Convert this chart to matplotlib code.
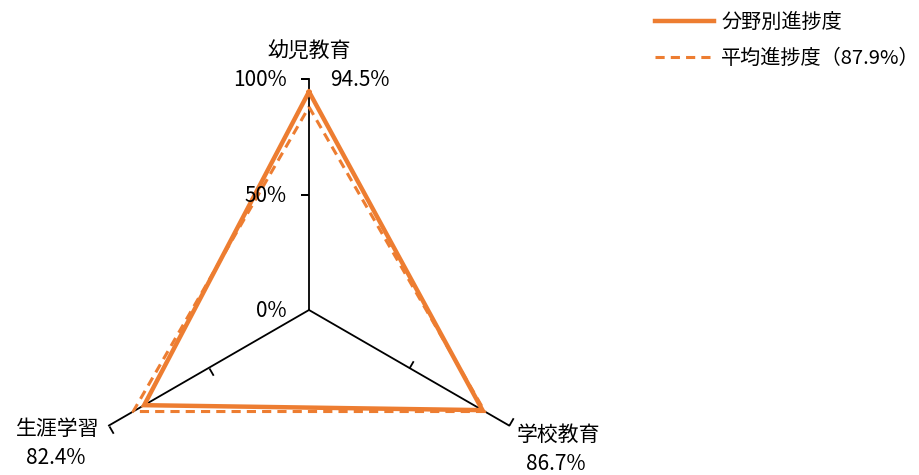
import numpy as np
import matplotlib
matplotlib.use('Agg')
from matplotlib import pyplot as plt
from matplotlib.markers import MarkerStyle
from matplotlib.path import Path
from matplotlib.transforms import Affine2D
from matplotlib.lines import Line2D

plt.rcParams['font.family'] = ['Noto Sans CJK JP', 'DejaVu Sans']
plt.rcParams['font.size'] = 15

categories = ['幼児教育', '学校教育', '生涯学習']
progress = [94.5, 86.7, 82.4]
average = 87.9
r_ticks = [0, 50, 100]
r_tick_labels = ['0%', '50%', '100%']

orange = '#ED7D31'

fig = plt.figure(figsize=(9.2, 4.75), dpi=100)

# polar axes placed so the centre sits at (309, 310) px, 100% = 231 px
rmax = 110
rad_px = 231 * rmax / 100
cx, cy = 309, 475 - 310
ax = fig.add_axes([(cx - rad_px) / 920, (cy - rad_px) / 475, 2 * rad_px / 920, 2 * rad_px / 475],
                  projection='polar')
ax.set_theta_offset(np.pi / 2)
ax.set_theta_direction(-1)
ax.set_ylim(0, rmax)
ax.axis('off')

theta = np.linspace(0, 2 * np.pi, len(categories), endpoint=False)

# spokes
for t in theta:
    ax.plot([t, t], [0, 100], color='black', lw=1.3, zorder=1)

# tick marks (one-sided, perpendicular to each spoke)
tick_path = Path([(0, 0), (-1, 0)])
for t in theta:
    ang = -np.degrees(t)
    ms = MarkerStyle(tick_path, transform=Affine2D().rotate_deg(ang))
    ax.plot([t] * 2, r_ticks[1:], ls='none', marker=ms, markersize=12,
            markeredgecolor='black', markeredgewidth=1.3, zorder=1)

# average (dashed)
tc = np.append(theta, theta[0])
avg = [average] * (len(categories) + 1)
ax.plot(tc, avg, color=orange, lw=2.2, ls=(0, (3, 2)), zorder=2, clip_on=False)

# progress (solid)
vals = progress + progress[:1]
ax.plot(tc, vals, color=orange, lw=3.2, zorder=3, clip_on=False, solid_joinstyle='miter')

# r tick labels on the top spoke
for r, lab in zip(r_ticks, r_tick_labels):
    ax.annotate(lab, xy=(0, r), xytext=(-22, -1), textcoords='offset pixels',
                ha='right', va='center')

# category labels and value labels
cat_offsets = [(0, 27, 'center'), (8, -9, 'left'), (-10, -3, 'right')]
val_offsets = [(21, -1, 'left'), (47, -38, 'center'), (-53, -32, 'center')]
for t, c, v, co, vo in zip(theta, categories, progress, cat_offsets, val_offsets):
    ax.annotate(c, xy=(t, 100), xytext=co[:2], textcoords='offset pixels',
                ha=co[2], va='center')
    ax.annotate(f'{v}%', xy=(t, 100), xytext=vo[:2], textcoords='offset pixels',
                ha=vo[2], va='center')

handles = [Line2D([], [], color=orange, lw=3.2),
           Line2D([], [], color=orange, lw=2.2, ls=(0, (3, 2)))]
labels = ['分野別進捗度', f'平均進捗度（{average}%）']
fig.legend(handles, labels, loc='upper left', bbox_to_anchor=(637 / 920, 1.012),
           frameon=False, fontsize=14.5, handlelength=2.9, handletextpad=0.38,
           labelspacing=0.72)

fig.savefig('out.png', dpi=100)
